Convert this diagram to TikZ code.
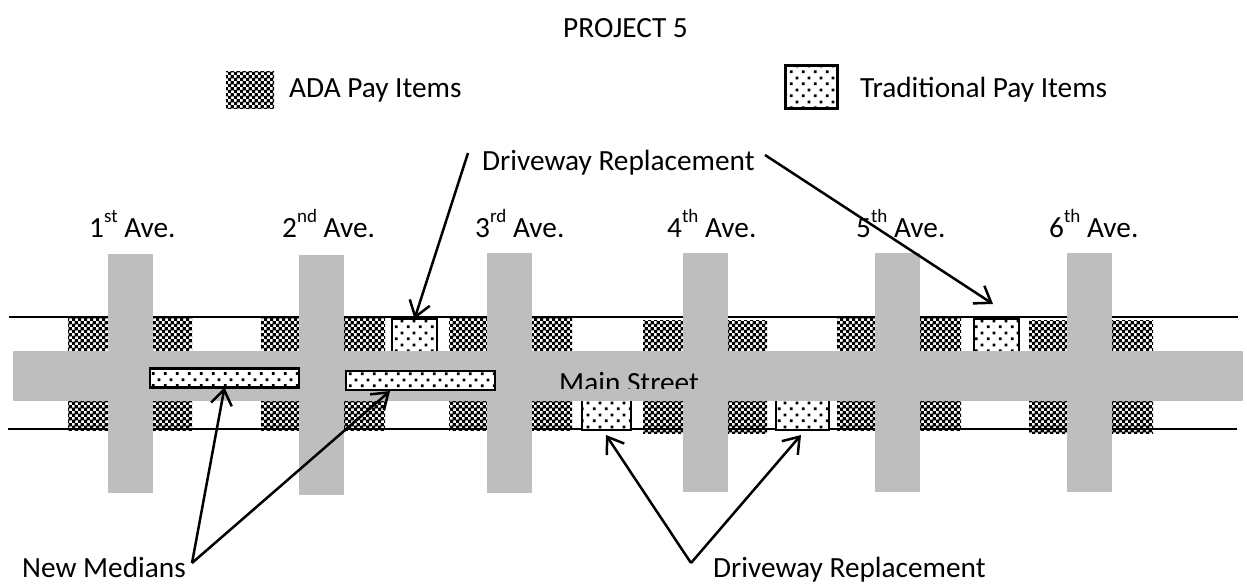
\documentclass[tikz,border=0pt]{standalone}
\usepackage{fontspec}
\setmainfont{Carlito}
\usetikzlibrary{patterns,arrows.meta}

\pgfdeclarepatternformonly{adacheck}{\pgfqpoint{0pt}{0pt}}{\pgfqpoint{6pt}{6pt}}{\pgfqpoint{6pt}{6pt}}{
  \pgfpathrectangle{\pgfqpoint{0pt}{0pt}}{\pgfqpoint{3.7pt}{3.7pt}}
  \pgfpathrectangle{\pgfqpoint{3pt}{3pt}}{\pgfqpoint{3.7pt}{3.7pt}}
  \pgfusepath{fill}}
\pgfdeclarepatternformonly{tradots}{\pgfqpoint{0pt}{0pt}}{\pgfqpoint{11.6pt}{11.6pt}}{\pgfqpoint{11.6pt}{11.6pt}}{
  \pgfpathrectangle{\pgfqpoint{1pt}{1pt}}{\pgfqpoint{2.8pt}{2.8pt}}
  \pgfpathrectangle{\pgfqpoint{6.8pt}{6.8pt}}{\pgfqpoint{2.8pt}{2.8pt}}
  \pgfusepath{fill}}
\definecolor{streetgray}{gray}{0.745}
\newcommand{\avesup}[1]{\raisebox{15pt}{\fontsize{19}{19}\selectfont #1}}

\tikzset{
  street/.style={fill=streetgray, inner sep=0pt, outer sep=0pt},
  adasq/.style={pattern=adacheck, inner sep=0pt, outer sep=0pt},
  tradsq/.style={preaction={fill=white}, pattern=tradots, draw, line width=2.6pt, inner sep=0pt, outer sep=0pt},
  lbl/.style={anchor=base west, inner sep=0pt, font=\fontsize{29.3}{29.3}\selectfont},
  callout/.style={-{Straight Barb[length=15pt,width=21pt,line width=2.5pt]}, line width=2.5pt}
}

\begin{document}
\begin{tikzpicture}[x=1pt,y=-1pt]
  \useasboundingbox (0,0) rectangle (1247,585);

  % curb lines
  \coordinate (ctl) at (9,317);
  \coordinate (ctr) at (1238,317);
  \coordinate (cbl) at (8,429);
  \coordinate (cbr) at (1237,429);
  \draw[line width=1.5pt] (ctl) -- (ctr);
  \draw[line width=1.5pt] (cbl) -- (cbr);

  % pay items beside the main street
  \foreach \cx/\w/\yt/\yb [count=\i] in {88/40/318/430, 172.5/39/318/430, 280/38/318/430, 364.5/41/318/430,
      468/38/318/430, 552/40/318/430, 663/40/320/433, 747.5/39/320/433,
      856/38/318/430, 940.5/41/318/430, 1048/38/320/433, 1132.5/41/320/433} {
    \node[adasq, minimum width=\w pt, minimum height={352pt-\yt pt}] (adat\i) at (\cx,{(\yt+352)/2}) {};
    \node[adasq, minimum width=\w pt, minimum height={\yb pt-400pt}] (adab\i) at (\cx,{(\yb+400)/2}) {};
  }

  \node[tradsq, minimum width=45pt, minimum height=34pt] (tradt1) at (414.5,336) {};
  \node[tradsq, minimum width=45pt, minimum height=34pt] (tradt2) at (996.5,336) {};
  \node[tradsq, minimum width=49pt, minimum height=34pt] (tradb1) at (606.5,413) {};
  \node[tradsq, minimum width=53pt, minimum height=34pt] (tradb2) at (802.5,413) {};

  % streets
  \node[street, minimum width=1230pt, minimum height=50pt] (mainst) at (628,376) {};
  \foreach \cx/\yt/\yb [count=\i] in {130.5/254/493, 321.5/255/495, 509.5/253/493, 705.5/253/492, 897.5/253/492, 1089.5/253/492}
    \node[street, minimum width=45pt, minimum height={\yb pt-\yt pt}] (ave\i) at (\cx,{(\yt+\yb)/2}) {};

  % medians
  \node[tradsq, minimum width=149pt, minimum height=19pt] (medn1) at (224.5,378) {};
  \node[tradsq, minimum width=149pt, minimum height=19pt] (medn2) at (420.5,380.5) {};

  \begin{scope}
    \clip (540,360) rectangle (720,388);
    \node[lbl] (mainlbl) at (559,392) {Main Street};
  \end{scope}

  % legend and labels
  \node[lbl] (title) at (563,38) {PROJECT 5};
  \node[adasq, minimum width=48pt, minimum height=37pt] (keyada) at (250,90.5) {};
  \node[tradsq, minimum width=52pt, minimum height=43pt] (keytrad) at (811.5,87) {};
  \node[lbl] (keyadalbl) at (289,98) {ADA Pay Items};
  \node[lbl] (keytradlbl) at (860,98) {Traditional Pay Items};

  \foreach \x/\n/\s [count=\i] in {89/1/st, 282/2/nd, 475/3/rd, 667/4/th, 856/5/th, 1049/6/th}
    \node[lbl] (avelbl\i) at (\x,238) {\n\avesup{\s} Ave.};

  \node[lbl] (drivetop) at (482,171) {Driveway Replacement};
  \node[lbl] (drivebot) at (713,577) {Driveway Replacement};
  \node[lbl] (medlbl) at (22,577) {New Medians};

  % callouts
  \coordinate (dtl) at (468,153);
  \coordinate (dtr) at (765,155);
  \coordinate (dtip) at (993,304);
  \coordinate (mapex) at (192,563);
  \coordinate (mtip) at (390,391);
  \coordinate (dapex) at (691,563);
  \coordinate (bl) at (606,435);
  \coordinate (br) at (801,435);

  \draw[callout] (dtl) -- (tradt1.north);
  \draw[callout] (dtr) -- (dtip);
  \foreach \from/\to in {mapex/medn1.south, mapex/mtip, dapex/bl, dapex/br}
    \draw[callout] (\from) -- (\to);
\end{tikzpicture}
\end{document}
